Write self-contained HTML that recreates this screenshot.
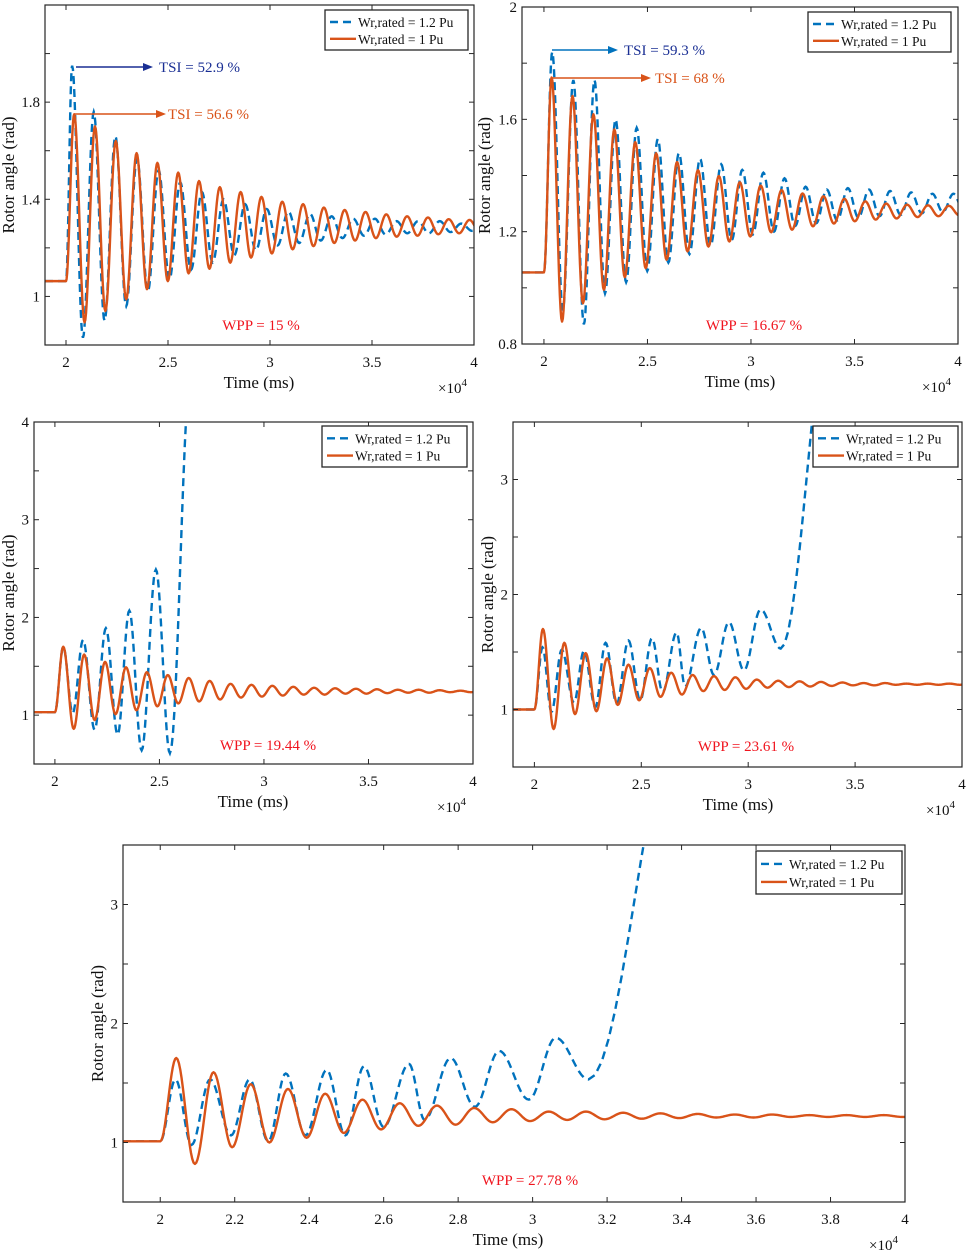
<!DOCTYPE html>
<html><head><meta charset="utf-8">
<style>
html,body{margin:0;padding:0;background:#fff;}
svg{display:block;font-family:"Liberation Serif",serif;}
</style></head>
<body>
<svg id="fig" width="966" height="1253" viewBox="0 0 966 1253" xmlns="http://www.w3.org/2000/svg"></svg>
<script>
// ---------- DATA ----------
// Panel 1 (WPP = 15 %)
const p1OrangeStart = 2.0, p1OrangeBase = 1.063, p1OrangeT0 = 2.04, p1OrangePeriod = 0.102;
const p1OrangePeaks = [1.75,1.70,1.64,1.59,1.55,1.51,1.475,1.45,1.43,1.41,1.39,1.38,1.366,1.356,1.348,1.338,1.33,1.325,1.318,1.315];
const p1OrangeTroughs = [0.893,0.94,0.988,1.03,1.063,1.095,1.114,1.139,1.16,1.177,1.194,1.207,1.22,1.23,1.24,1.246,1.25,1.256,1.26,1.263];
const p1BlueStart = 2.0, p1BlueBase = 1.063, p1BlueT0 = 2.03, p1BluePeriod = 0.106;
const p1BluePeaks = [1.95,1.76,1.66,1.57,1.52,1.47,1.43,1.40,1.38,1.36,1.35,1.34,1.33,1.32,1.32,1.31,1.31,1.31,1.30,1.30];
const p1BlueTroughs = [0.83,0.90,0.96,1.02,1.07,1.11,1.14,1.17,1.19,1.21,1.22,1.23,1.24,1.25,1.255,1.26,1.26,1.265,1.27,1.27];
// Panel 2 (WPP = 16.67 %)
const p2OrangeStart = 2.0, p2OrangeBase = 1.055, p2OrangeT0 = 2.037, p2OrangePeriod = 0.101;
const p2OrangePeaks = [1.749,1.683,1.618,1.564,1.519,1.479,1.448,1.419,1.398,1.376,1.364,1.348,1.336,1.326,1.317,1.308,1.30,1.296,1.294,1.292];
const p2OrangeTroughs = [0.88,0.945,0.993,1.038,1.07,1.10,1.13,1.147,1.165,1.183,1.198,1.207,1.219,1.229,1.237,1.243,1.247,1.252,1.255,1.258];
const p2BlueStart = 2.0, p2BlueBase = 1.055, p2BlueT0 = 2.04, p2BluePeriod = 0.102;
const p2BluePeaks = [1.84,1.74,1.74,1.60,1.57,1.53,1.48,1.46,1.44,1.42,1.41,1.39,1.36,1.35,1.355,1.35,1.345,1.34,1.335,1.335];
const p2BlueTroughs = [0.92,0.87,0.98,1.02,1.06,1.09,1.12,1.15,1.17,1.19,1.20,1.22,1.23,1.24,1.25,1.255,1.26,1.265,1.27,1.27];
// Panel 3 (WPP = 19.44 %)
const p3OrangeStart = 2.0, p3OrangeBase = 1.03, p3OrangeT0 = 2.04, p3OrangePeriod = 0.1;
const p3OrangePeaks = [1.70,1.62,1.545,1.49,1.44,1.41,1.38,1.35,1.32,1.31,1.30,1.29,1.28,1.275,1.27,1.265,1.26,1.26,1.255,1.25];
const p3OrangeTroughs = [0.86,0.95,1.01,1.05,1.09,1.12,1.14,1.16,1.18,1.19,1.20,1.21,1.21,1.22,1.22,1.225,1.23,1.23,1.235,1.235];
const p3BlueTimes = [1.9,2.0,2.04,2.085,2.135,2.19,2.244,2.30,2.356,2.415,2.483,2.55,2.65];
const p3BlueValues = [1.03,1.03,1.70,1.02,1.77,0.85,1.89,0.80,2.07,0.64,2.49,0.61,4.5];
// Panel 4 (WPP = 23.61 %)
const p4OrangeStart = 2.0, p4OrangeBase = 1.0, p4OrangeT0 = 2.04, p4OrangePeriod = 0.1;
const p4OrangePeaks = [1.70,1.58,1.49,1.445,1.39,1.36,1.32,1.30,1.29,1.28,1.26,1.25,1.245,1.24,1.235,1.23,1.23,1.225,1.225,1.225];
const p4OrangeTroughs = [0.83,0.96,0.985,1.04,1.08,1.11,1.13,1.16,1.17,1.18,1.19,1.195,1.20,1.205,1.21,1.21,1.215,1.215,1.215,1.215];
const p4BlueTimes = [1.9,2.0,2.038,2.08,2.128,2.185,2.232,2.285,2.333,2.385,2.44,2.495,2.55,2.60,2.665,2.705,2.78,2.84,2.91,2.98,3.058,3.152,3.40];
const p4BlueValues = [1.0,1.0,1.54,0.98,1.52,1.06,1.51,1.02,1.58,1.05,1.60,1.08,1.62,1.15,1.67,1.20,1.71,1.30,1.76,1.34,1.87,1.53,4.6];
// Panel 5 (WPP = 27.78 %)
const p5OrangeStart = 2.0, p5OrangeBase = 1.01, p5OrangeT0 = 2.043, p5OrangePeriod = 0.1;
const p5OrangePeaks = [1.71,1.59,1.49,1.45,1.41,1.36,1.33,1.31,1.29,1.28,1.26,1.26,1.25,1.245,1.24,1.235,1.235,1.23,1.23,1.23];
const p5OrangeTroughs = [0.82,0.96,1.0,1.04,1.08,1.11,1.14,1.15,1.17,1.18,1.19,1.195,1.20,1.205,1.21,1.21,1.215,1.215,1.215,1.215];
const p5BlueTimes = [1.9,2.0,2.041,2.084,2.134,2.19,2.24,2.29,2.337,2.39,2.447,2.497,2.547,2.60,2.668,2.71,2.78,2.845,2.91,2.99,3.062,3.15,3.40];
const p5BlueValues = [1.01,1.01,1.53,0.98,1.53,1.06,1.53,1.01,1.58,1.06,1.61,1.06,1.64,1.13,1.66,1.19,1.71,1.30,1.77,1.36,1.88,1.53,4.6];
// tick label arrays
const xTicksHalf = [2,2.5,3,3.5,4];
const xTicksFine = [2,2.2,2.4,2.6,2.8,3,3.2,3.4,3.6,3.8,4];
const p1YTicks = [0.8,1,1.2,1.4,1.6,1.8,2,2.2], p1YLabels = [1,1.4,1.8];
const p2YTicks = [0.8,1,1.2,1.4,1.6,1.8,2], p2YLabels = [0.8,1.2,1.6,2];
const p3YTicks = [0.5,1,1.5,2,2.5,3,3.5,4], p3YLabels = [1,2,3,4];
const p4YTicks = [0.5,1,1.5,2,2.5,3,3.5], p4YLabels = [1,2,3];

// ---------- DRAW ----------
const NS = 'http://www.w3.org/2000/svg';
const svg = document.getElementById('fig');
const BLUE = '#0072BD', ORANGE = '#D95319';
function mk(tag, attrs, parent){
  const e = document.createElementNS(NS, tag);
  for (const k in attrs) e.setAttribute(k, attrs[k]);
  (parent||svg).appendChild(e);
  return e;
}
function regularExtrema(start, base, t0, P, peaks, troughs, xmin, xmax){
  const ts=[xmin,start], vs=[base,base];
  let i=0;
  while (true){
    const tp = t0 + i*P, tt = t0 + (i+0.5)*P;
    ts.push(tp); vs.push(peaks[Math.min(i,peaks.length-1)]);
    if (tp > xmax) break;
    ts.push(tt); vs.push(troughs[Math.min(i,troughs.length-1)]);
    if (tt > xmax) break;
    i++;
  }
  return [ts,vs];
}
function pathFrom(ts, vs, sx, sy){
  let d = 'M'+sx(ts[0]).toFixed(2)+','+sy(vs[0]).toFixed(2);
  for (let k=1;k<ts.length;k++){
    const ta=ts[k-1], tb=ts[k], va=vs[k-1], vb=vs[k];
    if (va===vb){ d+='L'+sx(tb).toFixed(2)+','+sy(vb).toFixed(2); continue; }
    const n=14;
    for (let j=1;j<=n;j++){
      const s=j/n, t=ta+(tb-ta)*s, v=va+(vb-va)*(1-Math.cos(Math.PI*s))/2;
      d+='L'+sx(t).toFixed(2)+','+sy(v).toFixed(2);
    }
  }
  return d;
}
function panel(cfg){
  const g = mk('g',{});
  
  
  const {L,T,R,B,xmin,xmax,ymin,ymax} = cfg;
  const sx = t => L + (t-xmin)/(xmax-xmin)*(R-L);
  const sy = v => B - (v-ymin)/(ymax-ymin)*(B-T);
  const cid = cfg.name+'-clip';
  const cp = mk('clipPath',{id:cid}, g);
  mk('rect',{x:L,y:T,width:R-L,height:B-T}, cp);
  // series
  const lines = mk('g',{'clip-path':'url(#'+cid+')'}, g);
  const ob = mk('path',{d:pathFrom(cfg.orange[0],cfg.orange[1],sx,sy),fill:'none',stroke:ORANGE,'stroke-width':2.4,'stroke-linejoin':'round'}, lines);
  const bl = mk('path',{d:pathFrom(cfg.blue[0],cfg.blue[1],sx,sy),fill:'none',stroke:BLUE,'stroke-width':2.4,'stroke-dasharray':'8,5'}, lines);
  
  
  lines.appendChild(ob);
  
  
  // axes box
  const box = mk('rect',{x:L,y:T,width:R-L,height:B-T,fill:'none',stroke:'#262626','stroke-width':1.2}, g);
  
  
  const tl = 5;
  cfg.xTicks.forEach(t=>{
    const x=sx(t);
    mk('line',{x1:x,y1:B,x2:x,y2:B-tl,stroke:'#262626'}, g);
    mk('line',{x1:x,y1:T,x2:x,y2:T+tl,stroke:'#262626'}, g);
    const lab = mk('text',{x:x,y:B+22,'text-anchor':'middle','font-size':15,fill:'#111'}, g);
    lab.textContent = String(t);
    
    
  });
  cfg.yTicks.forEach(v=>{
    const y=sy(v);
    mk('line',{x1:L,y1:y,x2:L+tl,y2:y,stroke:'#262626'}, g);
    mk('line',{x1:R,y1:y,x2:R-tl,y2:y,stroke:'#262626'}, g);
  });
  cfg.yLabels.forEach(v=>{
    const lab = mk('text',{x:L-5,y:sy(v)+5,'text-anchor':'end','font-size':15,fill:'#111'}, g);
    lab.textContent = String(v);
    
    
  });
  // axis titles
  const xt = mk('text',{x:(cfg.xtX),y:B+43,'text-anchor':'middle','font-size':17,fill:'#111'}, g);
  xt.textContent='Time (ms)';
  
  
  const mult = mk('text',{x:R-36,y:B+48,'font-size':15,fill:'#111'}, g);
  mult.innerHTML = '×10<tspan dy="-7" font-size="11">4</tspan>';
  
  
  const cy=(T+B)/2;
  const yt = mk('text',{x:cfg.ytX,y:cy,'text-anchor':'middle','font-size':17,fill:'#111',transform:'rotate(-90 '+cfg.ytX+' '+cy+')'}, g);
  yt.textContent='Rotor angle (rad)';
  
  
  // legend
  const lg = mk('g',{}, g);
  
  
  const [lx,ly,lw,lh] = cfg.legend;
  mk('rect',{x:lx,y:ly,width:lw,height:lh,fill:'#fff',stroke:'#262626','stroke-width':1.3}, lg);
  mk('line',{x1:lx+5,y1:ly+lh*0.3,x2:lx+31,y2:ly+lh*0.3,stroke:BLUE,'stroke-width':2.4,'stroke-dasharray':'8,5'}, lg);
  mk('line',{x1:lx+5,y1:ly+lh*0.72,x2:lx+31,y2:ly+lh*0.72,stroke:ORANGE,'stroke-width':2.4}, lg);
  const le1 = mk('text',{x:lx+33,y:ly+lh*0.3+5,'font-size':13.5,fill:'#111'}, lg);
  le1.textContent='Wr,rated = 1.2 Pu';
  
  
  const le2 = mk('text',{x:lx+33,y:ly+lh*0.72+5,'font-size':13.5,fill:'#111'}, lg);
  le2.textContent='Wr,rated = 1 Pu';
  
  
  // WPP annotation
  const w = mk('text',{x:cfg.wpp[0],y:cfg.wpp[1],'text-anchor':'middle','font-size':15,fill:'#f0141e'}, g);
  w.textContent = cfg.wppText;
  
  
  return g;
}
function arrow(x1,x2,y,col,tx,text,tcol){
  mk('line',{x1:x1,y1:y,x2:x2-8,y2:y,stroke:col,'stroke-width':1.6});
  mk('path',{d:`M${x2},${y} L${x2-10},${y-4} L${x2-10},${y+4} Z`,fill:col});
  const t = mk('text',{x:tx,y:y+5,'font-size':15,fill:tcol});
  t.textContent = text;
  
  
}

panel({name:'panel-wpp-15',L:45,T:5,R:474,B:345,xmin:1.897,xmax:4,ymin:0.8,ymax:2.2,
  xTicks:xTicksHalf,yTicks:p1YTicks,yLabels:p1YLabels,xtX:259,ytX:14,legend:[325,10,143,40],
  wpp:[261,330],wppText:'WPP = 15 %',
  orange:regularExtrema(p1OrangeStart,p1OrangeBase,p1OrangeT0,p1OrangePeriod,p1OrangePeaks,p1OrangeTroughs,1.897,4),
  blue:regularExtrema(p1BlueStart,p1BlueBase,p1BlueT0,p1BluePeriod,p1BluePeaks,p1BlueTroughs,1.897,4)});
arrow(76,153,67,'#1a2f94',159,'TSI = 52.9 %','#1a2f94');
arrow(74,166,114,ORANGE,168,'TSI = 56.6 %',ORANGE);

panel({name:'panel-wpp-16.67',L:522,T:7,R:958,B:344,xmin:1.894,xmax:4,ymin:0.8,ymax:2.0,
  xTicks:xTicksHalf,yTicks:p2YTicks,yLabels:p2YLabels,xtX:740,ytX:490,legend:[808,12,143,40],
  wpp:[754,330],wppText:'WPP = 16.67 %',
  orange:regularExtrema(p2OrangeStart,p2OrangeBase,p2OrangeT0,p2OrangePeriod,p2OrangePeaks,p2OrangeTroughs,1.894,4),
  blue:regularExtrema(p2BlueStart,p2BlueBase,p2BlueT0,p2BluePeriod,p2BluePeaks,p2BlueTroughs,1.894,4)});
arrow(552,618,50,BLUE,624,'TSI = 59.3 %','#1a2f94');
arrow(552,651,78,ORANGE,655,'TSI = 68 %',ORANGE);

panel({name:'panel-wpp-19.44',L:34,T:422,R:473,B:764,xmin:1.9,xmax:4,ymin:0.5,ymax:4,
  xTicks:xTicksHalf,yTicks:p3YTicks,yLabels:p3YLabels,xtX:253,ytX:14,legend:[322,426,145,41],
  wpp:[268,750],wppText:'WPP = 19.44 %',
  orange:regularExtrema(p3OrangeStart,p3OrangeBase,p3OrangeT0,p3OrangePeriod,p3OrangePeaks,p3OrangeTroughs,1.9,4),
  blue:[p3BlueTimes,p3BlueValues]});

panel({name:'panel-wpp-23.61',L:513,T:422,R:962,B:767,xmin:1.9,xmax:4,ymin:0.5,ymax:3.5,
  xTicks:xTicksHalf,yTicks:p4YTicks,yLabels:p4YLabels,xtX:738,ytX:493,legend:[813,426,145,41],
  wpp:[746,751],wppText:'WPP = 23.61 %',
  orange:regularExtrema(p4OrangeStart,p4OrangeBase,p4OrangeT0,p4OrangePeriod,p4OrangePeaks,p4OrangeTroughs,1.9,4),
  blue:[p4BlueTimes,p4BlueValues]});

panel({name:'panel-wpp-27.78',L:123,T:845,R:905,B:1202,xmin:1.9,xmax:4,ymin:0.5,ymax:3.5,
  xTicks:xTicksFine,yTicks:p4YTicks,yLabels:p4YLabels,xtX:508,ytX:103,legend:[756,851,146,43],
  wpp:[530,1185],wppText:'WPP = 27.78 %',
  orange:regularExtrema(p5OrangeStart,p5OrangeBase,p5OrangeT0,p5OrangePeriod,p5OrangePeaks,p5OrangeTroughs,1.9,4),
  blue:[p5BlueTimes,p5BlueValues]});
</script>
</body></html>
